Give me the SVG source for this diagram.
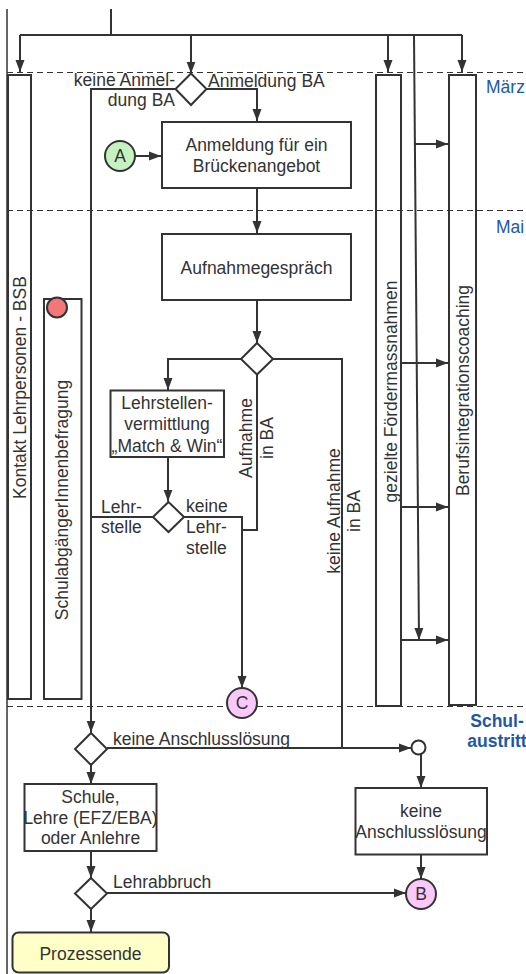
<svg xmlns="http://www.w3.org/2000/svg" width="526" height="974" viewBox="0 0 526 974">
<defs>
<style>
.t{font-family:"Liberation Sans",Arial,sans-serif;font-size:17.5px;fill:#333}
.m{text-anchor:middle}
.e{text-anchor:end}
.b{font-family:"Liberation Sans",Arial,sans-serif;font-size:17.5px;fill:#1d58a8}
.bb{font-weight:bold;text-anchor:middle}
.dash{stroke:#333;stroke-width:1;stroke-dasharray:6 4;fill:none}
.col{fill:none;stroke:#333;stroke-width:2}
.box{fill:#fff;stroke:#333;stroke-width:2}
.c{fill:none;stroke:#333;stroke-width:2}
.a{marker-end:url(#ah)}
</style>
<marker id="ah" markerWidth="12" markerHeight="10" refX="12" refY="5" orient="auto" markerUnits="userSpaceOnUse"><path d="M0,0.5 L12,5 L0,9.5 z" fill="#333"/></marker>
</defs>
<rect width="526" height="974" fill="#fff"/>
<g id="border"><path d="M7,9 V974" stroke="#333" stroke-width="1.5" fill="none"/></g>
<g id="phases">
<path class="dash" d="M7,72.5 H526"/>
<path class="dash" d="M7,210.5 H526"/>
<path class="dash" d="M7,706.5 H526"/>
<text class="b" x="486" y="93">März</text>
<text class="b" x="496" y="233">Mai</text>
<text class="b bb" x="497" y="727">Schul-</text>
<text class="b bb" x="497" y="747">austritt</text>
</g>
<g id="col-kontakt"><rect class="col" x="8" y="75" width="23" height="624"/><text class="t m" transform="translate(25.5,387.5) rotate(-90)">Kontakt Lehrpersonen - BSB</text></g>
<g id="col-befragung"><rect class="col" x="44" y="299" width="37.5" height="400"/><circle cx="57" cy="307.5" r="10" fill="#f47777" stroke="#333" stroke-width="2"/><text class="t m" transform="translate(67.5,500) rotate(-90)">SchulabgängerInnenbefragung</text></g>
<g id="col-foerder"><rect class="col" x="376" y="75" width="25" height="631"/><text class="t m" transform="translate(396.5,391.5) rotate(-90)">gezielte Fördermassnahmen</text></g>
<g id="col-coaching"><rect class="col" x="449" y="75" width="27" height="630"/><text class="t m" transform="translate(468.5,390.5) rotate(-90)">Berufsintegrationscoaching</text></g>
<g id="connectors">
<path class="c" d="M111,9 V35"/>
<path class="c" d="M20,35 H462"/>
<path class="c a" d="M20,35 V72"/>
<path class="c a" d="M191,35 V73.5"/>
<path class="c a" d="M388,35 V72"/>
<path class="c a" d="M462,35 V72"/>
<path class="c a" d="M414,35 L419,640"/>
<path class="c a" d="M415,144 H448"/>
<path class="c a" d="M401,363 H448"/>
<path class="c a" d="M401,507 H448"/>
<path class="c a" d="M401,640 H448"/>
<path class="c a" d="M207,89 H257 V121"/>
<path class="c a" d="M176,89 H91 V732.5"/>
<path class="c a" d="M135,156 H161"/>
<path class="c a" d="M257,188 V233"/>
<path class="c a" d="M257,300 V343"/>
<path class="c a" d="M241,359 H168 V390"/>
<path class="c" d="M273,359 H342 V748"/>
<path class="c" d="M257,374 V530 H242"/>
<path class="c a" d="M168,457 V501.5"/>
<path class="c a" d="M184,517 H242 V688"/>
<path class="c" d="M153,517 H91"/>
<path class="c a" d="M107,748 H411"/>
<path class="c a" d="M421,754 V788"/>
<path class="c a" d="M421,855 V879"/>
<path class="c a" d="M91,765 V784"/>
<path class="c a" d="M91,851 V878"/>
<path class="c a" d="M107,893 H406"/>
<path class="c a" d="M91,909 V932"/>
</g>
<g id="labels">
<text class="t e" x="175" y="86">keine Anmel-</text>
<text class="t e" x="175" y="106">dung BA</text>
<text class="t" x="208" y="86.5">Anmeldung BA</text>
<text class="t" x="101" y="513">Lehr-</text>
<text class="t" x="101" y="533">stelle</text>
<text class="t" x="186" y="512">keine</text>
<text class="t" x="186" y="533">Lehr-</text>
<text class="t" x="186" y="554">stelle</text>
<text class="t m" transform="translate(252,438) rotate(-90)">Aufnahme</text>
<text class="t m" transform="translate(273,438) rotate(-90)">in BA</text>
<text class="t m" transform="translate(340,511) rotate(-90)">keine Aufnahme</text>
<text class="t m" transform="translate(360,511) rotate(-90)">in BA</text>
<text class="t" x="113" y="745">keine Anschlusslösung</text>
<text class="t" x="113" y="888">Lehrabbruch</text>
</g>
<g id="d1"><path class="box" d="M191,73.5 L206.5,89 L191,105 L175.5,89 z"/></g>
<g id="A"><circle cx="120" cy="156" r="15" fill="#c6f2c2" stroke="#333" stroke-width="2"/><text class="t m" x="120" y="162">A</text></g>
<g id="anmeldung"><rect class="box" x="162" y="122" width="189" height="66"/><text class="t m" x="256.5" y="151">Anmeldung für ein</text><text class="t m" x="256.5" y="172">Brückenangebot</text></g>
<g id="aufnahmegespraech"><rect class="box" x="162" y="234" width="189" height="66"/><text class="t m" x="256.5" y="274">Aufnahmegespräch</text></g>
<g id="d2"><path class="box" d="M257,343 L273,359 L257,374.5 L241,359 z"/></g>
<g id="lehrstellen"><rect class="box" x="110.5" y="390.5" width="113.5" height="66.5"/><text class="t m" x="167" y="408.5">Lehrstellen-</text><text class="t m" x="167" y="430">vermittlung</text><text class="t m" x="167" y="451.5">„Match &amp; Win“</text></g>
<g id="d3"><path class="box" d="M168.5,502 L184,517 L168.5,532 L153,517 z"/></g>
<g id="C"><circle cx="242" cy="703" r="15" fill="#fbc8fb" stroke="#333" stroke-width="2"/><text class="t m" x="242" y="709">C</text></g>
<g id="d4"><path class="box" d="M91,733 L107,749 L91,765 L75,749 z"/></g>
<g id="merge"><circle cx="418.5" cy="747.5" r="7" fill="#fff" stroke="#333" stroke-width="2"/></g>
<g id="schule"><rect class="box" x="24.5" y="784" width="132" height="67"/><text class="t m" x="90.5" y="803">Schule,</text><text class="t m" x="90.5" y="823.5">Lehre (EFZ/EBA)</text><text class="t m" x="90.5" y="844">oder Anlehre</text></g>
<g id="keineanschluss"><rect class="box" x="355.5" y="788" width="131.5" height="66.5"/><text class="t m" x="421" y="817">keine</text><text class="t m" x="421" y="838">Anschlusslösung</text></g>
<g id="d5"><path class="box" d="M91,878 L107,893.5 L91,909 L75,893.5 z"/></g>
<g id="B"><circle cx="421" cy="894" r="15" fill="#fbc8fb" stroke="#333" stroke-width="2"/><text class="t m" x="421" y="900">B</text></g>
<g id="ende"><rect x="12.5" y="932.5" width="156.5" height="40" rx="6" fill="#ffffc8" stroke="#333" stroke-width="2"/><text class="t m" x="90.5" y="960">Prozessende</text></g>
</svg>
